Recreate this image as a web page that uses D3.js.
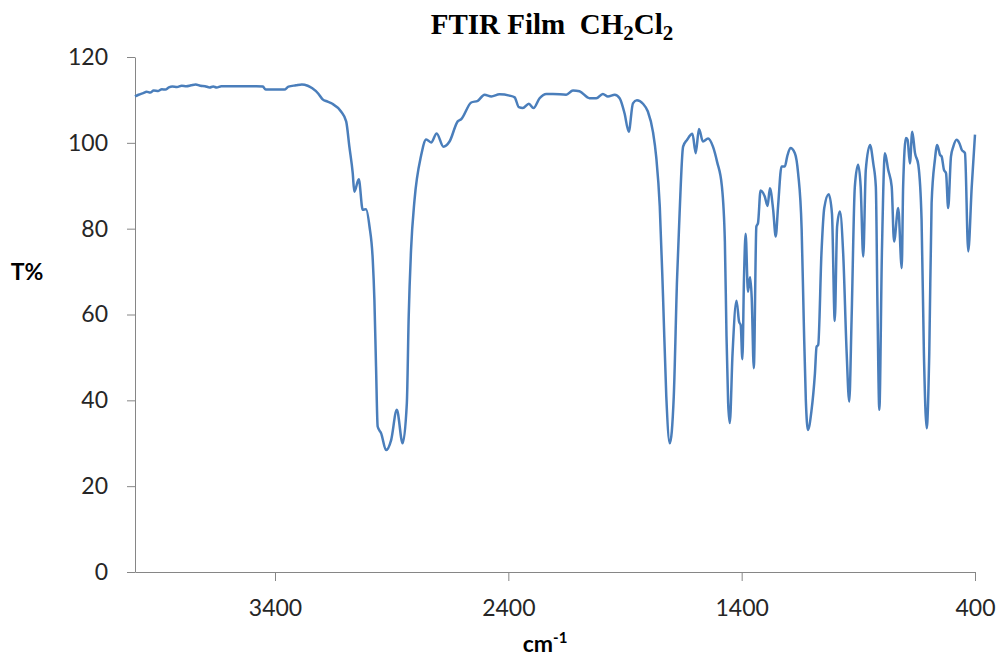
<!DOCTYPE html>
<html>
<head>
<meta charset="utf-8">
<script src="https://cdn.jsdelivr.net/npm/d3@7"></script>
<style>
  body { margin: 0; background: #fff; }
  .axis path, .axis line { stroke: #868686; stroke-width: 1; }
  .axis text { font-family: Lato, "Open Sans", sans-serif; font-size: 23px; fill: #262626; }
</style>
</head>
<body>
<script>
// wavenumber (cm-1), high -> low
var wavenumber = [
  4000, 3985, 3965, 3950, 3935, 3920, 3900, 3885, 3870, 3855, 3840, 3820, 3800, 3780, 3760, 3740,
  3720, 3700, 3680, 3665, 3650, 3630, 3600, 3560, 3520, 3480, 3452, 3440, 3360, 3342, 3310, 3285,
  3260, 3240, 3215, 3197, 3175, 3154, 3117, 3095, 3081, 3067, 3060, 3041, 3024, 3010, 2995, 2981,
  2974, 2967, 2960, 2945, 2924, 2902, 2878, 2853, 2835, 2827, 2817, 2802, 2774, 2752, 2731, 2707,
  2678, 2652, 2617, 2602, 2559, 2531, 2502, 2473, 2438, 2395, 2373, 2355, 2338, 2312, 2292, 2266,
  2237, 2209, 2152, 2123, 2095, 2052, 2023, 1995, 1973, 1944, 1923, 1902, 1884, 1866, 1849, 1823,
  1802, 1780, 1766, 1751, 1737, 1723, 1708, 1691, 1677, 1666, 1651, 1634, 1611, 1597, 1583, 1566,
  1544, 1523, 1505, 1485, 1472, 1465, 1458, 1451, 1439, 1422, 1411, 1404, 1397, 1390, 1383, 1373,
  1364, 1357, 1348, 1337, 1330, 1319, 1301, 1289, 1279, 1265, 1254, 1244, 1229, 1215, 1205, 1191,
  1172, 1158, 1143, 1134, 1125, 1116, 1101, 1086, 1079, 1072, 1058, 1046, 1027, 1013, 1001, 991,
  979, 965, 950, 939, 929, 915, 901, 890, 879, 868, 850, 836, 825, 818, 810, 799,
  786, 772, 757, 747, 729, 714, 708, 696, 689, 679, 669, 657, 643, 629, 619, 607,
  596, 586, 572, 562, 550, 543, 533, 524, 515, 503, 493, 479, 467, 457, 443, 429,
  414, 400
];

// transmittance (%)
var transmittance = [
  110.8, 111.2, 111.6, 111.9, 111.7, 112.2, 112.1, 112.5, 112.4, 112.9, 113.1, 113.0, 113.3, 113.2, 113.4, 113.6,
  113.3, 113.2, 112.9, 113.1, 112.9, 113.2, 113.2, 113.2, 113.2, 113.2, 113.1, 112.4, 112.4, 113.1, 113.4, 113.6,
  113.3, 112.7, 111.5, 110.2, 109.6, 109.1, 107.3, 105.0, 99.0, 93.0, 88.6, 91.5, 84.4, 84.5, 80.5, 72.7,
  63.4, 47.9, 33.9, 32.3, 28.4, 30.8, 37.8, 30.0, 39.3, 59.5, 75.0, 86.7, 97.0, 100.8, 100.1, 102.2,
  99.1, 100.3, 105.0, 105.5, 109.4, 109.8, 111.2, 110.8, 111.3, 111.0, 110.6, 108.3, 108.1, 109.1, 108.1, 110.4,
  111.4, 111.4, 111.2, 112.2, 112.0, 110.4, 110.4, 111.4, 110.8, 111.2, 110.4, 106.9, 102.6, 109.2, 109.9, 109.1,
  107.3, 102.5, 96.6, 85.2, 64.2, 40.9, 30.0, 40.9, 68.1, 83.6, 99.1, 100.7, 102.1, 97.6, 103.2, 100.3,
  101.0, 99.1, 95.5, 90.0, 77.0, 55.0, 39.5, 34.7, 51.0, 63.2, 58.3, 57.5, 49.6, 68.5, 78.8, 65.3,
  68.7, 64.0, 47.5, 80.5, 81.3, 88.9, 87.5, 85.3, 89.4, 84.4, 78.2, 85.2, 94.5, 94.5, 96.8, 98.8,
  97.6, 92.9, 80.0, 58.7, 40.0, 33.1, 37.5, 46.3, 52.5, 52.9, 74.3, 84.8, 88.0, 83.5, 58.5, 80.5,
  84.0, 74.3, 51.0, 39.7, 58.7, 89.8, 94.9, 89.8, 73.5, 93.7, 99.5, 95.2, 89.8, 62.0, 37.8, 74.3,
  97.6, 93.7, 89.8, 77.0, 84.8, 70.8, 89.8, 101.1, 100.7, 95.2, 102.6, 97.6, 94.9, 82.1, 51.0, 33.5,
  51.0, 85.9, 96.0, 99.5, 97.2, 96.8, 93.7, 92.9, 84.8, 96.8, 99.1, 100.7, 99.9, 98.4, 97.6, 74.7,
  89.8, 101.9
];

var yTicks = [0, 20, 40, 60, 80, 100, 120];
var xTicks = [3400, 2400, 1400, 400];

var width = 1000, height = 660;
var margin = {top: 57, right: 25, bottom: 88, left: 135};

var svg = d3.select("body").append("svg")
  .attr("width", width)
  .attr("height", height);

// reversed wavenumber axis, like a normal IR spectrum
var xScale = d3.scaleLinear()
  .domain([4000, 400])
  .range([margin.left, width - margin.right]);

var yScale = d3.scaleLinear()
  .domain([0, 120])
  .range([height - margin.bottom, margin.top]);

var yAxis = d3.axisLeft(yScale)
  .tickValues(yTicks)
  .tickSizeInner(8)
  .tickSizeOuter(0)
  .tickPadding(19);

var xAxis = d3.axisBottom(xScale)
  .tickValues(xTicks)
  .tickSizeInner(9)
  .tickSizeOuter(0)
  .tickPadding(19)
  .tickFormat(d3.format("d"));

svg.append("g")
  .attr("class", "y axis")
  .attr("transform", "translate(" + margin.left + ",0)")
  .call(yAxis);

svg.append("g")
  .attr("class", "x axis")
  .attr("transform", "translate(0," + (height - margin.bottom) + ")")
  .call(xAxis);

var data = wavenumber.map(function(w, i){ return {w: w, t: transmittance[i]}; });

var line = d3.line()
  .x(function(d){ return xScale(d.w); })
  .y(function(d){ return yScale(d.t); })
  .curve(d3.curveMonotoneX);

svg.append("path")
  .datum(data)
  .attr("fill", "none")
  .attr("stroke", "#4a7ebb")
  .attr("stroke-width", 2.5)
  .attr("stroke-linejoin", "round")
  .attr("d", line);

// title with subscripts
var title = svg.append("text")
  .attr("x", 552)
  .attr("y", 34)
  .attr("text-anchor", "middle")
  .style("font-family", "'Liberation Serif', 'Times New Roman', serif")
  .style("font-weight", "bold")
  .style("font-size", "29px")
  .style("fill", "#000");
title.append("tspan").text("FTIR Film \u00a0CH");
title.append("tspan").attr("dy", 6).style("font-size", "21px").text("2");
title.append("tspan").attr("dy", -6).text("Cl");
title.append("tspan").attr("dy", 6).style("font-size", "21px").text("2");

// y label
svg.append("text")
  .attr("x", 27)
  .attr("y", 280)
  .attr("text-anchor", "middle")
  .style("font-family", "Lato, 'Open Sans', sans-serif")
  .style("font-weight", "bold")
  .style("font-size", "23px")
  .style("fill", "#000")
  .text("T%");

// x label
var xl = svg.append("text")
  .attr("x", 545)
  .attr("y", 652)
  .attr("text-anchor", "middle")
  .style("font-family", "Lato, 'Open Sans', sans-serif")
  .style("font-weight", "bold")
  .style("font-size", "23px")
  .style("fill", "#000");
xl.append("tspan").text("cm");
xl.append("tspan").attr("dy", -9).style("font-size", "15px").text("-1");
</script>
</body>
</html>
